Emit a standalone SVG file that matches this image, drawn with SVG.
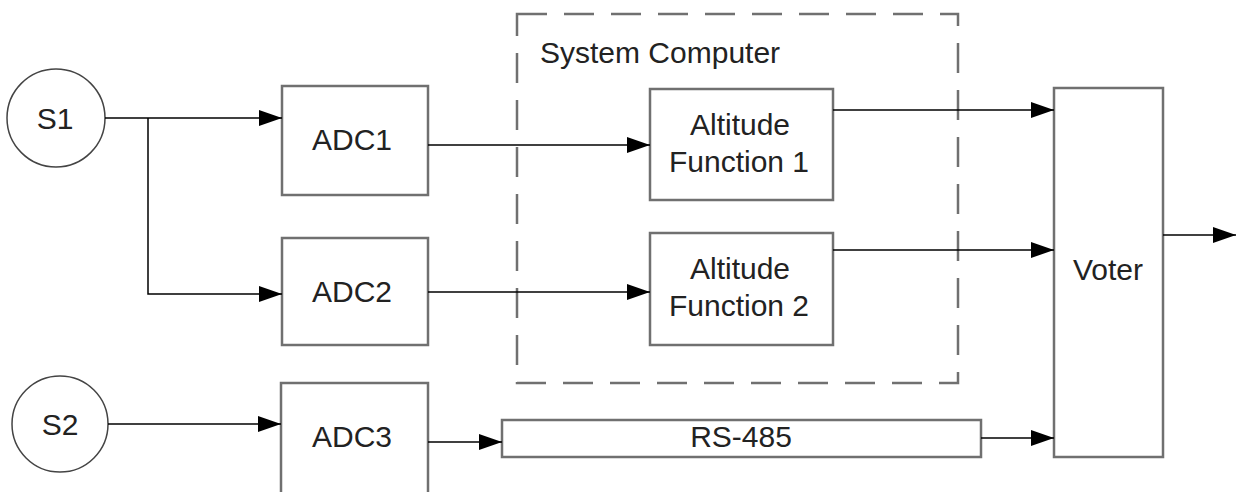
<svg xmlns="http://www.w3.org/2000/svg" width="1236" height="492" viewBox="0 0 1236 492">
<style>
.box{fill:#fff;stroke:#707070;stroke-width:2.5}
.circ{fill:#fff;stroke:#444;stroke-width:1.5}
.dash{fill:none;stroke:#707070;stroke-width:2.5;stroke-dasharray:30 17}
.line{fill:none;stroke:#000;stroke-width:1.5}
.arr{marker-end:url(#ah)}
text{font-family:"Liberation Sans",Arial,sans-serif;font-size:30px;fill:#222;text-anchor:middle}
</style>
<defs>
<marker id="ah" markerUnits="userSpaceOnUse" markerWidth="24" markerHeight="18" refX="23" refY="8" orient="auto">
<path d="M0,0 L23,8 L0,16 Z" fill="#000"/>
</marker>
</defs>
<g id="system-computer">
<rect class="dash" x="517" y="14" width="441" height="369"/>
<text x="540" y="63" style="text-anchor:start">System Computer</text>
</g>
<g id="S1"><circle class="circ" cx="56" cy="118" r="49"/><text x="55" y="129">S1</text></g>
<g id="S2"><circle class="circ" cx="60" cy="424" r="48"/><text x="60" y="435">S2</text></g>
<g id="ADC1"><rect class="box" x="282" y="86" width="146" height="109"/><text x="352" y="150">ADC1</text></g>
<g id="ADC2"><rect class="box" x="282" y="238" width="146" height="107"/><text x="352" y="302">ADC2</text></g>
<g id="ADC3"><rect class="box" x="281" y="383" width="147" height="120"/><text x="352" y="447">ADC3</text></g>
<g id="AF1"><rect class="box" x="650" y="89" width="183" height="111"/><text x="740" y="135">Altitude</text><text x="739" y="172">Function 1</text></g>
<g id="AF2"><rect class="box" x="650" y="233" width="183" height="112"/><text x="740" y="279">Altitude</text><text x="739" y="316">Function 2</text></g>
<g id="RS485"><rect class="box" x="502" y="420" width="479" height="37"/><text x="741" y="447">RS-485</text></g>
<g id="Voter"><rect class="box" x="1054" y="88" width="109" height="369"/><text x="1108" y="280">Voter</text></g>
<g id="connectors">
<line class="line arr" x1="105" y1="118" x2="282" y2="118"/>
<polyline class="line arr" points="148,118 148,294 282,294"/>
<line class="line arr" x1="108" y1="424" x2="281" y2="424"/>
<line class="line arr" x1="428" y1="145" x2="650" y2="145"/>
<line class="line arr" x1="428" y1="292" x2="650" y2="292"/>
<line class="line arr" x1="428" y1="442" x2="502" y2="442"/>
<line class="line arr" x1="833" y1="110" x2="1054" y2="110"/>
<line class="line arr" x1="833" y1="250" x2="1054" y2="250"/>
<line class="line arr" x1="981" y1="438" x2="1054" y2="438"/>
<line class="line arr" x1="1163" y1="235" x2="1236" y2="235"/>
</g>
</svg>
